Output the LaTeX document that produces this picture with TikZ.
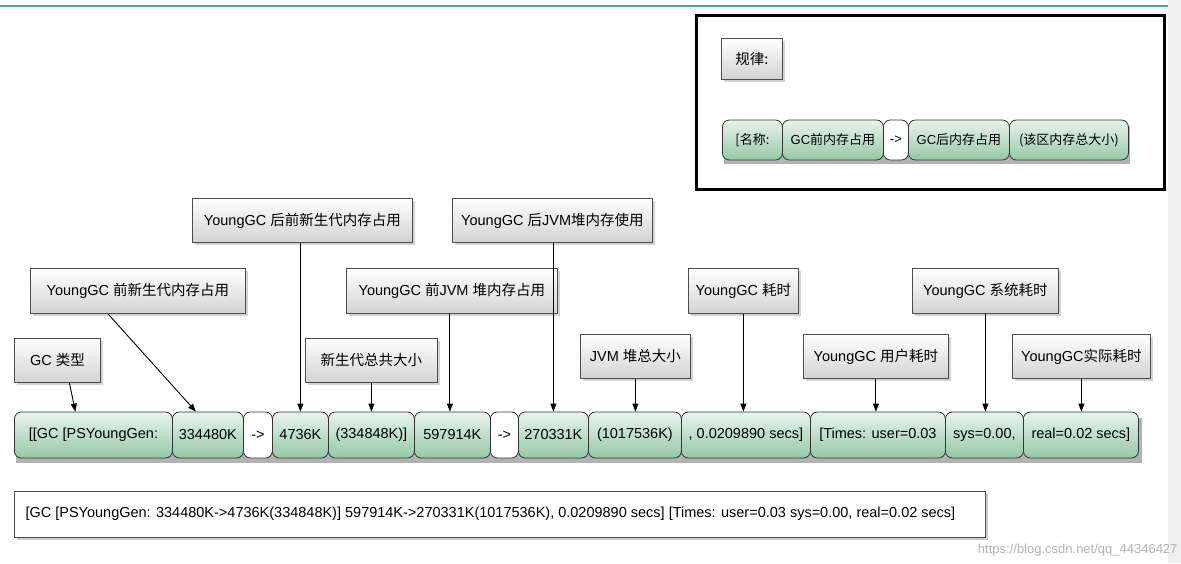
\documentclass[tikz,border=0pt]{standalone}
\usepackage{fontspec}
\setmainfont{Liberation Sans}
\newfontfamily\cjk{Noto Sans CJK SC}
\usetikzlibrary{shadows,arrows.meta}
\definecolor{gtop}{RGB}{232,244,236}
\definecolor{gbot}{RGB}{150,200,165}
\begin{document}
\begin{tikzpicture}[x=1pt,y=-1pt,
  seg/.style={draw=black!80,line width=0.8pt,rounded corners=7pt,top color=gtop,bottom color=gbot,inner sep=0pt,anchor=west,font=\fontsize{14.5}{16}\selectfont},
  wseg/.style={seg,top color=white,bottom color=white},
  lab/.style={draw=black!70,line width=0.8pt,top color=white,bottom color=gray!35,drop shadow={opacity=0.35},inner sep=0pt,font=\fontsize{14.5}{16}\selectfont},
  arr/.style={-{Triangle[length=8pt,width=6pt]},line width=0.9pt}]
\useasboundingbox (0,0) rectangle (1181,563);
\fill[white] (0,0) rectangle (1181,563);
\draw[teal!70,line width=1.5pt] (0,6) -- (1181,6);
\fill[gray!12] (1168,0) rectangle (1181,563);
% main row
\fill[black!30] (16,418) rectangle (1142,463);
\newcommand\sg[5][seg]{\node[#1,minimum width=#4pt-#3pt,minimum height=46pt] (#2) at (#3,435) {#5};}
\sg{s1}{14}{172}{[[GC [PSYoungGen:}
\sg{s2}{172}{243}{334480K}
\sg[wseg]{s3}{243}{272}{->}
\sg{s4}{272}{328}{4736K}
\sg{s5}{328}{414}{(334848K)]}
\sg{s6}{414}{490}{597914K}
\sg[wseg]{s7}{490}{518}{->}
\sg{s8}{518}{588}{270331K}
\sg{s9}{588}{681}{(1017536K)}
\sg{s10}{681}{810}{, 0.0209890 secs]}
\sg{s11}{810}{945}{[Times: user=0.03}
\sg{s12}{945}{1023}{sys=0.00,}
\sg{s13}{1023}{1138}{real=0.02 secs]}
% bottom box
\node[draw=black!70,line width=0.8pt,fill=white,drop shadow={opacity=0.4},minimum width=971pt,minimum height=46pt,anchor=north west,inner sep=0pt] (full) at (14,491) {};
\node[anchor=west,font=\fontsize{14.5}{16}\selectfont] (fulltext) at (22,514) {[GC [PSYoungGen: 334480K->4736K(334848K)] 597914K->270331K(1017536K), 0.0209890 secs] [Times: user=0.03 sys=0.00, real=0.02 secs]};
% labels
\newcommand\lb[6]{\node[lab,minimum width=#3pt-#2pt,minimum height=#5pt-#4pt,anchor=north west] (#1) at (#2,#4) {#6};}
\lb{l1}{14}{100}{338}{382}{GC {\cjk 类型}}
\lb{l2}{30}{245}{268}{313}{YoungGC {\cjk 前新生代内存占用}}
\lb{l3}{192}{412}{198}{242}{YoungGC {\cjk 后前新生代内存占用}}
\lb{l4}{305}{437}{338}{382}{{\cjk 新生代总共大小}}
\lb{l5}{346}{557}{268}{313}{YoungGC {\cjk 前}JVM {\cjk 堆内存占用}}
\lb{l6}{452}{652}{198}{242}{YoungGC {\cjk 后}JVM{\cjk 堆内存使用}}
\lb{l7}{580}{690}{334}{378}{JVM {\cjk 堆总大小}}
\lb{l8}{688}{798}{268}{313}{YoungGC {\cjk 耗时}}
\lb{l9}{803}{948}{334}{378}{YoungGC {\cjk 用户耗时}}
\lb{l10}{912}{1058}{268}{313}{YoungGC {\cjk 系统耗时}}
\lb{l11}{1012}{1150}{334}{378}{YoungGC{\cjk 实际耗时}}
\draw[arr] (l1.south)++(12,0) -- ([xshift=-18pt]s1.north);
\draw[arr] ([xshift=-30pt]l2.south) -- ([xshift=-12pt]s2.north);
\draw[arr] (l3.south -| s4.north) -- (s4.north);
\draw[arr] (l4.south) -- (l4.south |- s5.north);
\draw[arr] ([xshift=-2pt]l5.south) -- ([xshift=-2pt]l5.south |- s6.north);
\draw[arr] (l6.south -| s8.north) -- (s8.north);
\draw[arr] (l7.south) -- (l7.south |- s9.north);
\draw[arr] (l8.south) -- (l8.south |- s10.north);
\draw[arr] (l9.south) -- (l9.south |- s11.north);
\draw[arr] (l10.south) -- (l10.south |- s12.north);
\draw[arr] (l11.south) -- (l11.south |- s13.north);
% legend box
\node[draw=black,line width=3pt,minimum width=468pt,minimum height=174pt,anchor=north west,inner sep=0pt] (legend) at (695,14) {};
\lb{rule}{721}{782}{38}{79}{{\cjk 规律:}}
\fill[black!30] (724,126) rectangle (1130,164);
\newcommand\rg[5][seg]{\node[#1,minimum width=#4pt-#3pt,minimum height=40pt,font=\fontsize{13}{15}\selectfont] (#2) at (#3,140) {#5};}
\rg{r1}{722}{782}{{\cjk [名称:}}
\rg{r2}{782}{883}{GC{\cjk 前内存占用}}
\rg[wseg]{r3}{883}{908}{->}
\rg{r4}{908}{1009}{GC{\cjk 后内存占用}}
\rg{r5}{1009}{1128}{{\cjk (该区内存总大小)}}
\node[anchor=south east,text=gray!60,font=\fontsize{13}{15}\selectfont] (wm) at (1181,560) {https://blog.csdn.net/qq\_44346427};
\end{tikzpicture}
\end{document}
